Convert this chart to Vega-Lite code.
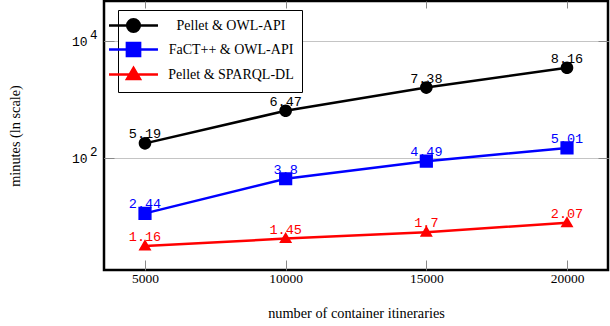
{
  "$schema": "https://vega.github.io/schema/vega-lite/v6.json",
  "width": 504,
  "height": 269,
  "autosize": {"type": "none"},
  "padding": {"left": 104, "top": 1, "right": 2, "bottom": 55},
  "background": "white",
  "config": {
    "view": {"stroke": "black", "strokeWidth": 2.5},
    "axis": {"domain": false, "labelFont": "Liberation Serif", "titleFont": "Liberation Serif", "titleFontWeight": "normal", "labelColor": "black", "titleColor": "black"}
  },
  "data": {
    "values": [
      {"n": 5000, "minutes": 179.47, "ln": "5.19", "series": "Pellet & OWL-API"},
      {"n": 10000, "minutes": 645.48, "ln": "6.47", "series": "Pellet & OWL-API"},
      {"n": 15000, "minutes": 1603.6, "ln": "7.38", "series": "Pellet & OWL-API"},
      {"n": 20000, "minutes": 3498.7, "ln": "8.16", "series": "Pellet & OWL-API"},
      {"n": 5000, "minutes": 11.47, "ln": "2.44", "series": "FaCT++ & OWL-API"},
      {"n": 10000, "minutes": 44.70, "ln": "3.8", "series": "FaCT++ & OWL-API"},
      {"n": 15000, "minutes": 89.12, "ln": "4.49", "series": "FaCT++ & OWL-API"},
      {"n": 20000, "minutes": 149.90, "ln": "5.01", "series": "FaCT++ & OWL-API"},
      {"n": 5000, "minutes": 3.19, "ln": "1.16", "series": "Pellet & SPARQL-DL"},
      {"n": 10000, "minutes": 4.26, "ln": "1.45", "series": "Pellet & SPARQL-DL"},
      {"n": 15000, "minutes": 5.47, "ln": "1.7", "series": "Pellet & SPARQL-DL"},
      {"n": 20000, "minutes": 7.92, "ln": "2.07", "series": "Pellet & SPARQL-DL"}
    ]
  },
  "resolve": {"axis": {"x": "independent", "y": "independent"}},
  "layer": [
    {
      "mark": {"type": "point", "filled": true, "opacity": 1, "strokeWidth": 0, "size": 144},
      "encoding": {
        "x": {"field": "n", "type": "quantitative",
          "scale": {"domain": [3543, 21457], "nice": false, "zero": false},
          "axis": {"orient": "top", "values": [5000, 10000, 15000, 20000], "grid": false, "labels": false, "title": null, "tickSize": -7, "tickColor": "#888888"}},
        "y": {"field": "minutes", "type": "quantitative",
          "scale": {"type": "log", "domain": [1.24, 48150], "nice": false},
          "axis": {"orient": "right", "values": [100, 10000], "grid": false, "labels": false, "title": null, "tickSize": -10, "tickColor": "#888888"}},
        "color": {"field": "series", "type": "nominal",
          "scale": {"domain": ["Pellet & OWL-API", "FaCT++ & OWL-API", "Pellet & SPARQL-DL"], "range": ["#000000", "#0000ff", "#ff0000"]},
          "legend": {
            "orient": "none", "legendX": 14, "legendY": 9, "title": null,
            "symbolSize": 144, "symbolStrokeWidth": 2.5, "labelFont": "Liberation Serif", "labelFontSize": 14, "labelAlign": "center", "labelOffset": 90, "labelColor": "black",
            "padding": 8, "rowPadding": 0, "fillColor": "white", "strokeColor": "black",
            "encode": {
              "legend": {"strokeWidth": {"value": 2.5}},
              "symbols": {"strokeWidth": {"value": 2.5}}
            }
          }},
        "stroke": {"field": "series", "type": "nominal",
          "scale": {"domain": ["Pellet & OWL-API", "FaCT++ & OWL-API", "Pellet & SPARQL-DL"], "range": ["#000000", "#0000ff", "#ff0000"]}},
        "shape": {"field": "series", "type": "nominal",
          "scale": {"domain": ["Pellet & OWL-API", "FaCT++ & OWL-API", "Pellet & SPARQL-DL"],
            "range": [
              "M-4.08,0H4.08M-1.05,0A1.05,1.05,0,1,1,1.05,0A1.05,1.05,0,1,1,-1.05,0Z",
              "M-4.08,0H4.08M-1.1,-1.1H1.1V1.1H-1.1Z",
              "M-4.08,0H4.08M0,-1.1L1.08,0.75H-1.08Z"
            ]}}
      }
    },
    {
      "mark": {"type": "line", "strokeWidth": 2.5},
      "encoding": {
        "x": {"field": "n", "type": "quantitative",
          "axis": {"orient": "bottom", "values": [5000, 10000, 15000, 20000], "format": "d", "grid": false, "tickSize": -10, "tickColor": "#888888", "labelFontSize": 13.5, "labelPadding": 11, "labelFlush": false,
            "title": "number of container itineraries", "titleFontSize": 14.3, "titleY": 43, "titleBaseline": "middle"}},
        "y": {"field": "minutes", "type": "quantitative",
          "axis": {"orient": "left", "values": [100, 10000], "grid": true, "gridColor": "#c4c4c4", "gridWidth": 1.2, "tickSize": -10, "tickColor": "#888888",
            "labelExpr": "'10'", "labelFont": "Liberation Mono", "labelFontSize": 13, "labelPadding": 27,
            "title": "minutes (ln scale)", "titleFontSize": 14.3, "titleX": -89, "titleBaseline": "middle"}},
        "color": {"field": "series", "type": "nominal"}
      }
    },
    {
      "mark": {"type": "text", "font": "Liberation Mono", "fontSize": 13.5, "dy": -5, "baseline": "alphabetic", "align": "center"},
      "encoding": {
        "x": {"field": "n", "type": "quantitative", "axis": null},
        "y": {"field": "minutes", "type": "quantitative",
          "axis": {"orient": "left", "values": [100, 10000], "grid": false, "ticks": false, "title": null,
            "labelExpr": "datum.value == 100 ? '2' : '4'", "labelFont": "Liberation Mono", "labelFontSize": 12.5, "labelPadding": 7, "labelOffset": -7}},
        "text": {"field": "ln"},
        "color": {"field": "series", "type": "nominal"}
      }
    }
  ]
}
